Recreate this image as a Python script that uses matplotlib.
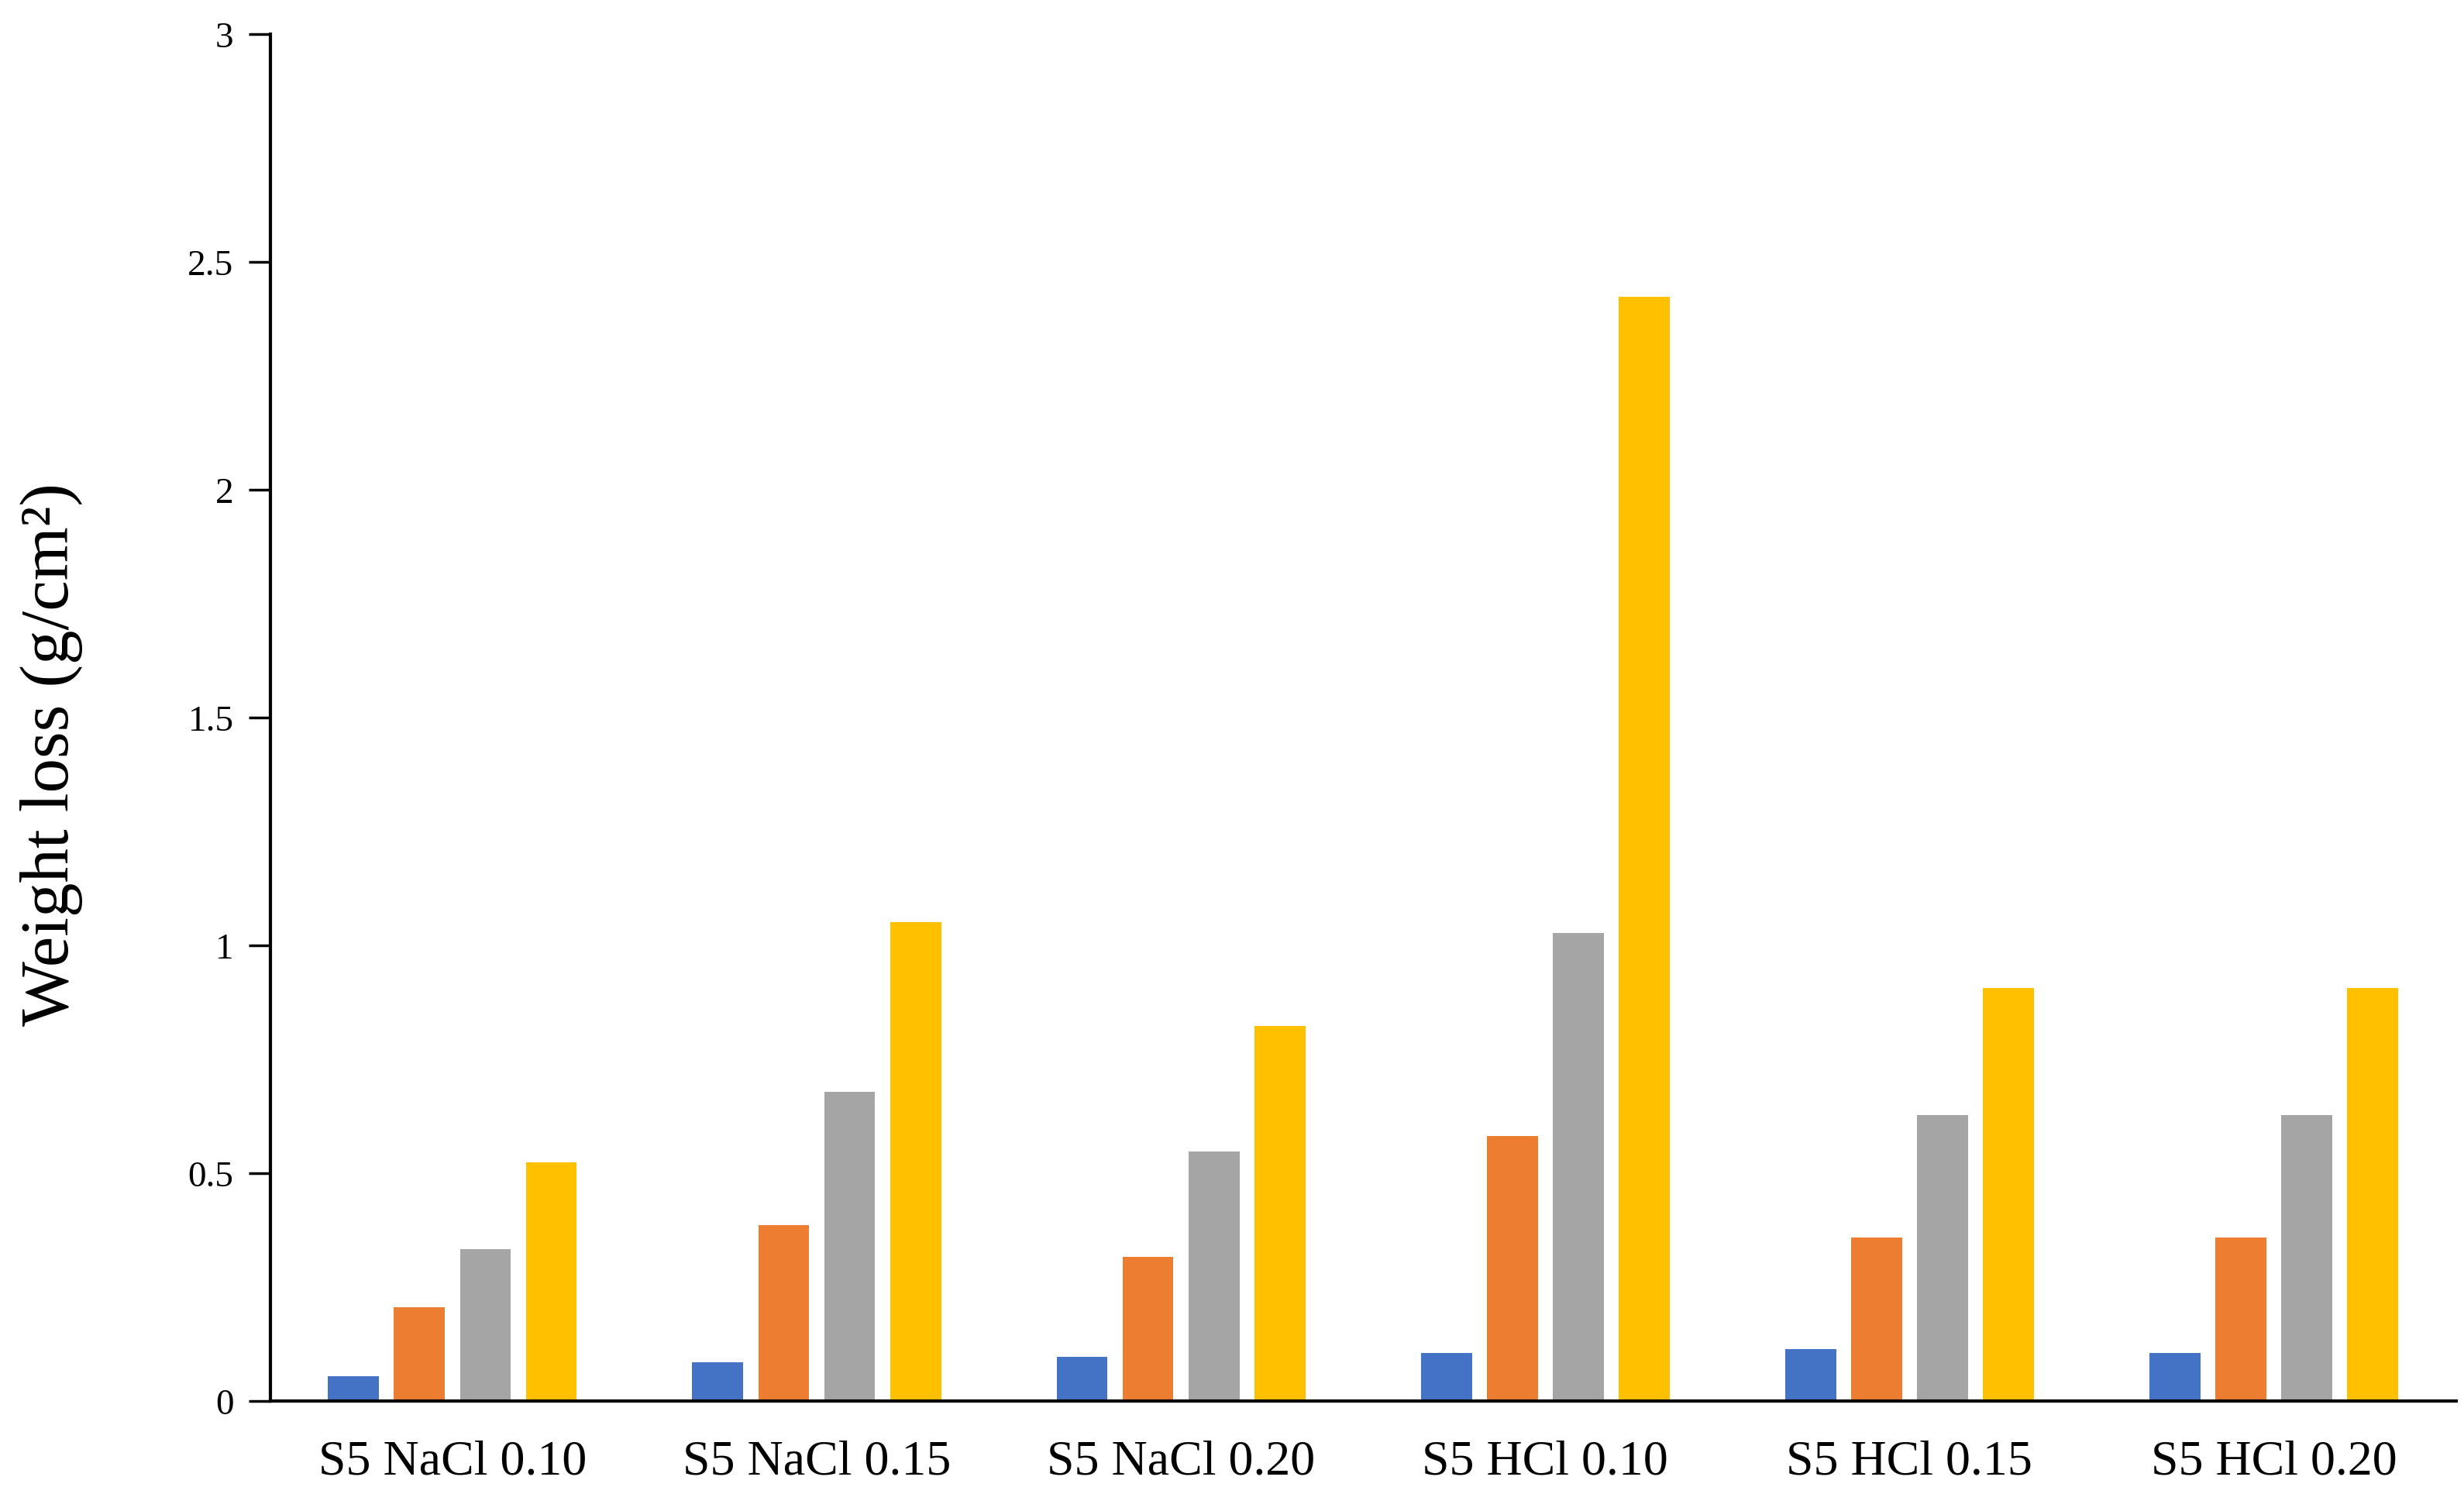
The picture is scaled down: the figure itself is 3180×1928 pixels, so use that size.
import numpy as np
import matplotlib
matplotlib.use('Agg')
import matplotlib.pyplot as plt
from matplotlib.ticker import FuncFormatter

# categories and series
groups = ['S5 NaCl 0.10', 'S5 NaCl 0.15', 'S5 NaCl 0.20',
          'S5 HCl 0.10', 'S5 HCl 0.15', 'S5 HCl 0.20']
series1 = [0.055, 0.086, 0.097, 0.107, 0.114, 0.107]
series2 = [0.207, 0.386, 0.317, 0.583, 0.359, 0.359]
series3 = [0.334, 0.679, 0.548, 1.028, 0.628, 0.628]
series4 = [0.524, 1.052, 0.824, 2.424, 0.907, 0.907]
colors = ['#4472C4', '#ED7D31', '#A5A5A5', '#FFC000']
yticks = [0, 0.5, 1, 1.5, 2, 2.5, 3]

plt.rcParams['font.family'] = ['Liberation Serif', 'DejaVu Serif']

fig = plt.figure(figsize=(31.8, 19.28), dpi=100)
ax = fig.add_axes([0.1097, 0.062, 0.887, 0.915])

x = np.arange(len(groups))
pitch = 0.181
width = 0.14
for i, (vals, c) in enumerate(zip([series1, series2, series3, series4], colors)):
    ax.bar(x + (i - 1.5) * pitch, vals, width=width, color=c, zorder=2)

ax.set_xlim(-0.5, len(groups) - 0.5)
ax.set_ylim(0, 3)
ax.set_yticks(yticks)
ax.yaxis.set_major_formatter(FuncFormatter(lambda v, p: '%g' % v))
ax.set_xticks(x)
ax.set_xticklabels(groups, fontsize=46)

ax.spines['top'].set_visible(False)
ax.spines['right'].set_visible(False)
ax.spines['left'].set_linewidth(3)
ax.spines['bottom'].set_linewidth(3)
ax.tick_params(axis='y', length=20, width=2.5, pad=14, labelsize=34)
ax.tick_params(axis='x', length=0, pad=36)

ax.set_ylabel('Weight loss (g/cm²)', fontsize=64, va='center')
ax.yaxis.set_label_coords(-0.100, 0.473)

fig.savefig('out.png', dpi=100)
